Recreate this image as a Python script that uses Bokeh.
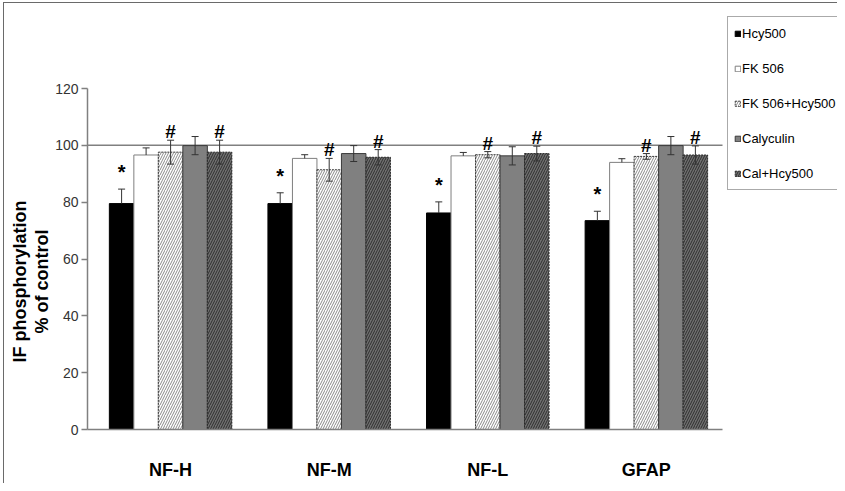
from bokeh.plotting import figure
from bokeh.models import (Range1d, FixedTicker, Whisker, ColumnDataSource,
                          Legend, LegendItem, TeeHead, Title)
from bokeh.core.properties import value
from bokeh.embed import file_html
from bokeh.resources import INLINE

# ---------------- data ----------------
categories = ["NF-H", "NF-M", "NF-L", "GFAP"]
series_names = ["Hcy500", "FK 506", "FK 506+Hcy500", "Calyculin", "Cal+Hcy500"]

hcy500 = [79.5, 79.5, 76.2, 73.5]
hcy500_err = [5.1, 3.8, 3.9, 3.3]
fk506 = [96.6, 95.4, 96.3, 94.0]
fk506_err = [2.5, 1.3, 1.2, 1.3]
fk506_hcy = [97.6, 91.4, 96.7, 96.1]
fk506_hcy_err = [4.2, 4.0, 1.1, 1.0]
calyculin = [99.9, 97.1, 96.3, 99.9]
calyculin_err = [3.2, 2.8, 3.2, 3.2]
cal_hcy = [97.6, 95.8, 97.1, 96.6]
cal_hcy_err = [4.2, 2.7, 2.6, 3.2]

y_ticks = [0, 20, 40, 60, 80, 100, 120]
y_title_lines = ["IF phosphorylation", "% of control"]
control_level = 100
star_series = [0]          # "*" vs control
hash_series = [2, 4]       # "#" vs Hcy500

values = [hcy500, fk506, fk506_hcy, calyculin, cal_hcy]
errors = [hcy500_err, fk506_err, fk506_hcy_err, calyculin_err, cal_hcy_err]

# ---------------- layout / styles ----------------
FONT = "Liberation Sans"
BAR_W = 0.1545
W, H = 837, 483
LEFT, BOTTOM = 87, 54                  # canvas px reserved for axes
AXIS_PX_X, AXIS_PX_Y = 635, 341        # drawn axis lengths in px
X_LO, X_HI = -0.524, 3.48              # visible axis extent (data)
Y_LO, Y_HI = 0, 120
frame_w = W - LEFT
frame_h = H - BOTTOM
x_max = X_LO + (X_HI - X_LO) * frame_w / AXIS_PX_X
y_max = Y_LO + (Y_HI - Y_LO) * frame_h / AXIS_PX_Y

styles = [
    dict(fill_color="black", line_color="black"),
    dict(fill_color="white", line_color="#7f7f7f"),
    dict(fill_color="white", line_color="#3a3a3a", line_dash="2 1",
         hatch_pattern="/", hatch_color="#8a8a8a", hatch_scale=5, hatch_weight=1),
    dict(fill_color="#808080", line_color="#3a3a3a"),
    dict(fill_color="#707070", line_color="#2a2a2a", line_dash="2 1",
         hatch_pattern="/", hatch_color="#2e2e2e", hatch_scale=5, hatch_weight=1),
]

p = figure(width=W, height=H, x_range=Range1d(X_LO, x_max), y_range=Range1d(Y_LO, y_max),
           output_backend="svg", toolbar_location=None,
           min_border_left=LEFT, min_border_right=0, min_border_top=0, min_border_bottom=BOTTOM)
p.xgrid.visible = False
p.ygrid.visible = False
p.outline_line_color = None
p.background_fill_color = None
p.background_fill_alpha = 0
p.border_fill_color = None
p.border_fill_alpha = 0
# outer chart-area border (left and top edges visible, as in the reference)
p.styles = {"box-shadow": "inset 3px 2px 0 0 white, inset 4px 3px 0 0 #6a6a6a"}

# y axis
ya = p.yaxis[0]
ya.bounds = (Y_LO, Y_HI)
ya.ticker = FixedTicker(ticks=y_ticks)
ya.axis_line_color = "#808080"
ya.axis_line_width = 1.5
ya.major_tick_line_color = "#808080"
ya.major_tick_line_width = 1.5
ya.major_tick_out = 6
ya.major_tick_in = 0
ya.minor_tick_line_color = None
ya.major_label_text_font = FONT
ya.major_label_text_font_size = "14px"
ya.major_label_text_color = "#333333"
ya.major_label_standoff = 3
ya.axis_label_standoff = 0

# y-axis title: two centred lines, centred on the drawn 0-120 axis
TITLE_PX = 18
title_offsets = [67, 96]   # px from frame bottom to the start of each line
for line, off in reversed(list(zip(y_title_lines, title_offsets))):
    p.add_layout(Title(text=line, align="left", offset=off, standoff=0,
                       vertical_align="middle",
                       text_font=FONT, text_font_size=f"{TITLE_PX}px",
                       text_font_style="bold", text_color="black"), "left")

# x axis
xa = p.xaxis[0]
xa.bounds = (X_LO, X_HI)
xa.ticker = FixedTicker(ticks=list(range(len(categories))))
xa.major_label_overrides = {i: c for i, c in enumerate(categories)}
xa.axis_line_color = "#808080"
xa.axis_line_width = 1.5
xa.major_tick_line_color = None
xa.minor_tick_line_color = None
xa.major_label_text_font = FONT
xa.major_label_text_font_style = "bold"
xa.major_label_text_font_size = "18px"
xa.major_label_text_color = "black"
xa.major_label_standoff = 24

# control (100 %) line across the axis extent
p.segment(x0=[X_LO], x1=[X_HI], y0=[control_level], y1=[control_level],
          line_color="#808080", line_width=1.5)

items = []
for s, name in enumerate(series_names):
    xs = [g + (s - 2) * BAR_W for g in range(len(categories))]
    src = ColumnDataSource(dict(x=xs, top=values[s]))
    r = p.vbar(x="x", top="top", bottom=0, width=BAR_W, source=src, line_width=1, **styles[s])
    items.append(LegendItem(label=name, renderers=[r]))

    tops = values[s]
    errs = errors[s]
    one_sided = s < 2
    lower = [t if one_sided else t - e for t, e in zip(tops, errs)]
    upper = [t + e for t, e in zip(tops, errs)]
    wsrc = ColumnDataSource(dict(base=xs, lower=lower, upper=upper))
    w = Whisker(base="base", lower="lower", upper="upper", source=wsrc,
                line_color="#333333", line_width=1, level="annotation",
                upper_head=TeeHead(size=7, line_color="#333333", line_width=1),
                lower_head=None if one_sided else TeeHead(size=7, line_color="#333333", line_width=1))
    p.add_layout(w)

    if s in star_series:
        p.text(x=xs, y=[u + 6 for u in upper], text=["*"] * len(xs),
               text_font=value(FONT), text_font_size="20px", text_font_style="bold",
               text_align="center", text_baseline="middle", text_color="black")
    if s in hash_series:
        p.text(x=xs, y=[u + 3 for u in upper], text=["#"] * len(xs),
               text_font=value(FONT), text_font_size="19px", text_font_style="bold",
               text_align="center", text_baseline="middle", text_color="black")

legend = Legend(items=items, location=(640, 239))
legend.label_text_font = FONT
legend.label_text_font_size = "13px"
legend.label_text_color = "black"
legend.label_standoff = 1
legend.glyph_width = 7
legend.glyph_height = 7
legend.label_height = 20
legend.label_width = 130
legend.spacing = 15
legend.padding = 6
legend.margin = 0
legend.border_line_color = "#555555"
legend.border_line_width = 1
legend.background_fill_color = "white"
legend.background_fill_alpha = 1
p.add_layout(legend)

open("out.html", "w").write(file_html(p, INLINE))
